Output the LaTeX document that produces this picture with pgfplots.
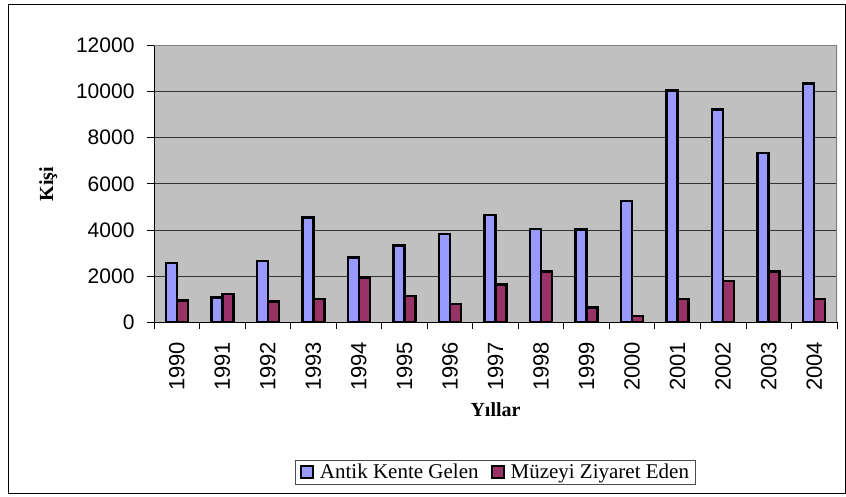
\documentclass[border=0pt]{standalone}
\usepackage{fontspec}
\setmainfont{Liberation Serif}
\newfontfamily\arial{Liberation Sans}
\usepackage{pgfplots}
\pgfplotsset{compat=1.18}
\definecolor{cblue}{HTML}{9999FF}
\definecolor{cred}{HTML}{993366}
\definecolor{cgray}{HTML}{C0C0C0}
\begin{document}
\begin{tikzpicture}[x=1pt,y=1pt]
\path[use as bounding box] (0,0) rectangle (846,497);
\draw[black, line width=1pt] (8,3) rectangle (845,492);
\begin{axis}[
  at={(154pt,174.7pt)}, anchor=south west,
  scale only axis, width=683pt, height=276.8pt,
  xmin=-0.5, xmax=14.5, ymin=0, ymax=12000,
  ybar=0pt, bar width=11pt,
  axis x line*=bottom, axis y line*=left,
  axis line style={black, line width=1pt},
  axis background/.style={fill=cgray},
  xtick={-0.5,0.5,...,14.5},
  x tick label as interval,
  xticklabels={1990,1991,1992,1993,1994,1995,1996,1997,1998,1999,2000,2001,2002,2003,2004},
  xticklabel style={rotate=90, anchor=east, font=\arial\fontsize{22}{26}\selectfont, xshift=-9pt},
  ytick={0,2000,...,12000},
  tick style={black, line width=0.8pt},
  tick align=outside, major tick length=7pt,
  yticklabel style={font=\arial\fontsize{21}{25}\selectfont, xshift=-9pt},
  /pgf/number format/assume math mode=true,
  scaled y ticks=false,
  yticklabel={\pgfmathprintnumber[fixed,1000 sep={}]{\tick}},
  ymajorgrids, xmajorgrids=false, grid style={black!80, line width=0.8pt},
  xlabel={\textbf{Yıllar}},
  xlabel style={at={(axis description cs:0.5,-0.317)}, anchor=center, font=\fontsize{20}{24}\selectfont},
  ylabel={\textbf{Kişi}},
  ylabel style={at={(axis description cs:-0.155,0.5)}, anchor=center, font=\fontsize{20}{24}\selectfont},
  legend style={at={(axis description cs:0.5,-0.541)}, anchor=center, legend columns=2,
    draw=black!70, line width=1pt, font=\fontsize{21}{25}\selectfont,
    inner xsep=4pt, inner ysep=2pt,
    /tikz/every odd column/.append style={column sep=4pt},
    /tikz/every even column/.append style={column sep=10pt}},
  legend image code/.code={\draw[#1, line width=2pt] (0pt,-6pt) rectangle (12pt,6pt);},
]
\addplot[fill=cblue, draw=black, line width=2.5pt] coordinates {
(0,2580) (1,1070) (2,2660) (3,4540) (4,2800) (5,3320) (6,3830) (7,4650)
(8,4050) (9,4020) (10,5260) (11,10050) (12,9220) (13,7340) (14,10350)};
\addplot[fill=cred, draw=black, line width=2.5pt] coordinates {
(0,950) (1,1220) (2,900) (3,1010) (4,1940) (5,1130) (6,800) (7,1630)
(8,2210) (9,640) (10,280) (11,1000) (12,1780) (13,2200) (14,1010)};
\addlegendentry{Antik Kente Gelen}
\addlegendentry{Müzeyi Ziyaret Eden}
\draw[gray, line width=1.5pt] (rel axis cs:0,1) -- (rel axis cs:1,1) -- (rel axis cs:1,0);
\end{axis}
\end{tikzpicture}
\end{document}
